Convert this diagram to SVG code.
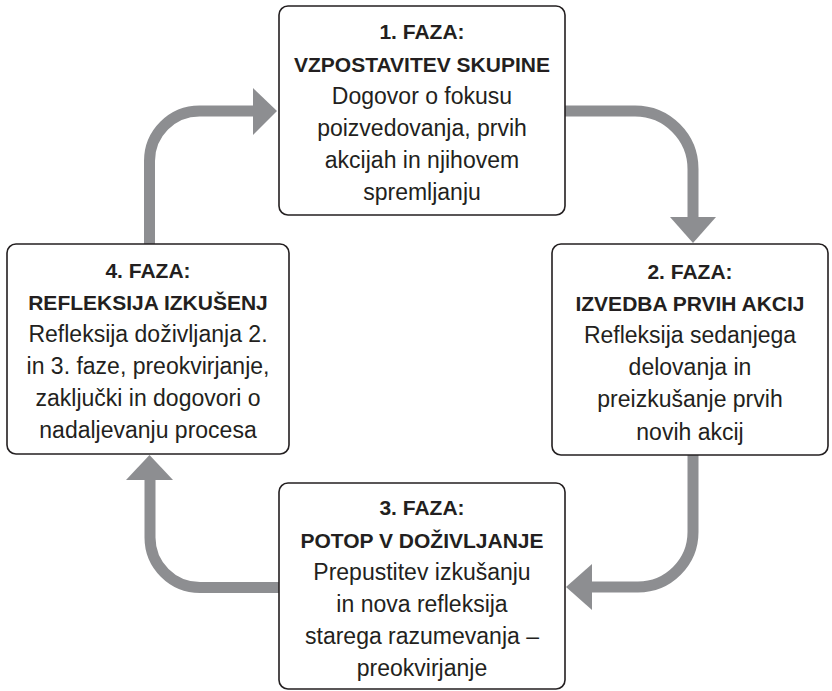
<svg xmlns="http://www.w3.org/2000/svg" width="832" height="691" viewBox="0 0 832 691">
<style>
.box{fill:#ffffff;stroke:#231f20;stroke-width:1.6}
.t{font-family:"Liberation Sans",Arial,sans-serif;font-weight:bold;font-size:21px;fill:#231f20;text-anchor:middle}
.b{font-family:"Liberation Sans",Arial,sans-serif;font-size:23px;fill:#231f20;text-anchor:middle}
.sh{fill:none;stroke:#8d8e91;stroke-width:11}
.hd{fill:#8d8e91}
</style>
<rect width="832" height="691" fill="#ffffff"/>
<g id="connectors">
<path class="sh" d="M149.5,244 V161 A50,50 0 0 1 199.5,111 H254"/>
<polygon class="hd" points="253,88 277,111 253,135"/>
<path class="sh" d="M565,111 H635 A58,58 0 0 1 693,169 V218"/>
<polygon class="hd" points="670,217 716,217 693,243"/>
<path class="sh" d="M693,455 V532 A55,55 0 0 1 638,587 H591"/>
<polygon class="hd" points="592,564 592,610 566,587"/>
<path class="sh" d="M279,587.5 H200 A50,50 0 0 1 150,537.5 V479"/>
<polygon class="hd" points="126,480 173,480 149.5,455"/>
</g>
<g id="node1">
<rect class="box" x="279" y="6" width="286" height="209" rx="9"/>
<text class="t" x="422" y="39">1. FAZA:</text>
<text class="t" x="422" y="72">VZPOSTAVITEV SKUPINE</text>
<text class="b" x="422" y="104">Dogovor o fokusu</text>
<text class="b" x="422" y="136">poizvedovanja, prvih</text>
<text class="b" x="422" y="168">akcijah in njihovem</text>
<text class="b" x="422" y="200">spremljanju</text>
</g>
<g id="node2">
<rect class="box" x="552" y="244" width="276" height="211" rx="9"/>
<text class="t" x="690" y="279">2. FAZA:</text>
<text class="t" x="690" y="311">IZVEDBA PRVIH AKCIJ</text>
<text class="b" x="690" y="343">Refleksija sedanjega</text>
<text class="b" x="690" y="375">delovanja in</text>
<text class="b" x="690" y="407">preizkušanje prvih</text>
<text class="b" x="690" y="440">novih akcij</text>
</g>
<g id="node3">
<rect class="box" x="279" y="483" width="286" height="206" rx="9"/>
<text class="t" x="422" y="515">3. FAZA:</text>
<text class="t" x="422" y="548">POTOP V DOŽIVLJANJE</text>
<text class="b" x="422" y="580">Prepustitev izkušanju</text>
<text class="b" x="422" y="612">in nova refleksija</text>
<text class="b" x="422" y="644">starega razumevanja –</text>
<text class="b" x="422" y="676">preokvirjanje</text>
</g>
<g id="node4">
<rect class="box" x="7" y="244" width="282" height="210" rx="9"/>
<text class="t" x="148" y="278">4. FAZA:</text>
<text class="t" x="148" y="310">REFLEKSIJA IZKUŠENJ</text>
<text class="b" x="148" y="342">Refleksija doživljanja 2.</text>
<text class="b" x="148" y="374">in 3. faze, preokvirjanje,</text>
<text class="b" x="148" y="406">zaključki in dogovori o</text>
<text class="b" x="148" y="438">nadaljevanju procesa</text>
</g>
</svg>
